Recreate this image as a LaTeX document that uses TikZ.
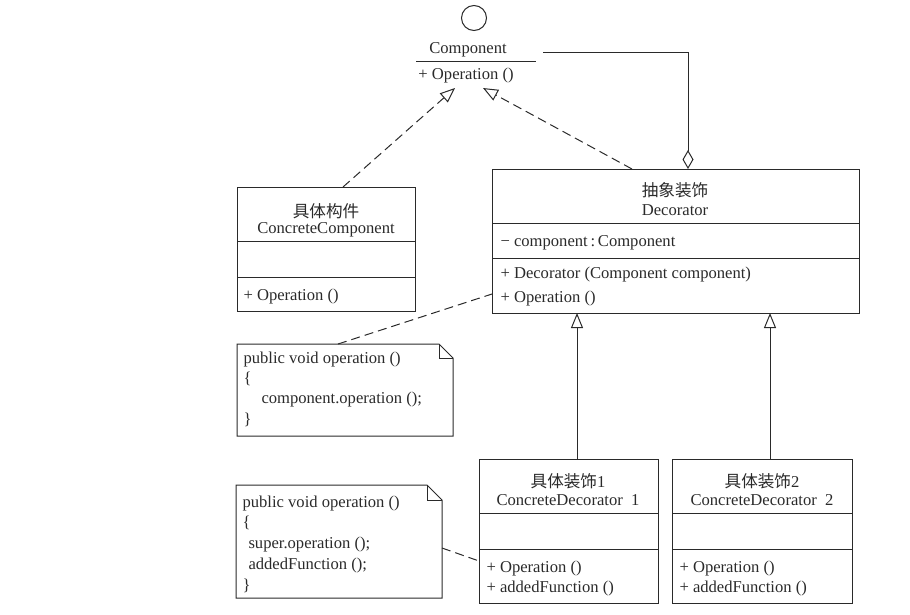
\documentclass[tikz,border=0pt]{standalone}
\usepackage{fontspec}
\setmainfont{Liberation Serif}
\newfontfamily\cjk{Noto Sans CJK SC}
\usetikzlibrary{arrows.meta}
\definecolor{ink}{HTML}{2A2A2A}
\begin{document}
\begin{tikzpicture}[x=1pt,y=-1pt,
  font=\fontsize{16.6}{20}\selectfont, color=ink, line width=1pt,
  box/.style={draw=ink, anchor=north west, inner sep=0pt},
  lbl/.style={inner sep=0pt, anchor=west, yshift=-2pt},
  ctr/.style={inner sep=0pt, yshift=-2pt},
  dep/.style={dash pattern=on 9pt off 5pt, -{Triangle[open,length=15pt,width=12pt]}},
  inh/.style={-{Triangle[open,length=15pt,width=12pt]}},
  agg/.style={-{Diamond[open,length=19pt,width=11pt]}},
  notelink/.style={dash pattern=on 9pt off 5pt},
  notebox/.style={draw=ink, line join=miter}
]
\useasboundingbox (0,0) rectangle (910,614);

% ---- Component interface ----
\node[draw=ink, circle, minimum size=25pt, inner sep=0pt] (lolly) at (474,18) {};
\node[ctr] (compname) at (468,48) {Component};
\draw (416,61) -- (536,61);
\node[ctr] (compop) at (466,74) {+ Operation ()};
\coordinate (tipA) at (455,88);
\coordinate (tipB) at (483,88);
\coordinate (aggStart) at (543,52);

% ---- ConcreteComponent ----
\node[box, minimum width=178pt, minimum height=124pt] (cc) at (237,187) {};
\node[ctr] (cc1) at (326,209) {\cjk 具体构件};
\node[ctr] (cc2) at (326,228) {ConcreteComponent};
\draw (237,241) -- (415,241);
\draw (237,277) -- (415,277);
\node[lbl] (cc3) at (243,295) {+ Operation ()};
\coordinate (ccTop) at (343,187);

% ---- Decorator ----
\node[box, minimum width=367pt, minimum height=144pt] (dec) at (492,169) {};
\node[ctr] (dec1) at (675,188) {\cjk 抽象装饰};
\node[ctr] (dec2) at (675,208) {Decorator};
\draw (492,223) -- (859,223);
\draw (492,258) -- (859,258);
\node[lbl] (dec3) at (500,241) {− component\,:\,Component};
\node[lbl] (dec4) at (500,273) {+ Decorator (Component component)};
\node[lbl] (dec5) at (500,296) {+ Operation ()};
\coordinate (decTopA) at (632,169);
\coordinate (decTopB) at (688,169);
\coordinate (decLeft) at (492,294);
\coordinate (decBot1) at (577,313);
\coordinate (decBot2) at (770,313);

% ---- ConcreteDecorator 1 ----
\node[box, minimum width=179pt, minimum height=144pt] (cd1) at (479,459) {};
\node[ctr] (cd1a) at (568,479) {\cjk 具体装饰\rmfamily 1};
\node[ctr] (cd1b) at (568,498) {ConcreteDecorator\ \ 1};
\draw (479,513) -- (658,513);
\draw (479,549) -- (658,549);
\node[lbl] (cd1c) at (486,566) {+ Operation ()};
\node[lbl] (cd1d) at (486,586) {+ addedFunction ()};
\coordinate (cd1Top) at (577,459);
\coordinate (cd1Left) at (479,561);

% ---- ConcreteDecorator 2 ----
\node[box, minimum width=180pt, minimum height=144pt] (cd2) at (672,459) {};
\node[ctr] (cd2a) at (762,479) {\cjk 具体装饰\rmfamily 2};
\node[ctr] (cd2b) at (762,498) {ConcreteDecorator\ \ 2};
\draw (672,513) -- (852,513);
\draw (672,549) -- (852,549);
\node[lbl] (cd2c) at (679,566) {+ Operation ()};
\node[lbl] (cd2d) at (679,586) {+ addedFunction ()};
\coordinate (cd2Top) at (770,459);

% ---- Note 1 ----
\draw[notebox] (237,344) -- (439,344) -- (453,358) -- (453,436) -- (237,436) -- cycle;
\draw[notebox] (439,344) -- (439,358) -- (453,358);
\node[lbl] (n1a) at (243,357) {public void operation ()};
\node[lbl] (n1b) at (243,377) {\{};
\node[lbl] (n1c) at (261,397) {component.operation ();};
\node[lbl] (n1d) at (243,418) {\}};
\coordinate (n1Top) at (338,344);

% ---- Note 2 ----
\draw[notebox] (236,485) -- (427,485) -- (442,500) -- (442,598) -- (236,598) -- cycle;
\draw[notebox] (427,485) -- (427,500) -- (442,500);
\node[lbl] (n2a) at (242,501) {public void operation ()};
\node[lbl] (n2b) at (242,521) {\{};
\node[lbl] (n2c) at (248,542) {super.operation ();};
\node[lbl] (n2d) at (248,563) {addedFunction ();};
\node[lbl] (n2e) at (242,584) {\}};
\coordinate (n2Right) at (442,548);

% ---- Connectors ----
\draw[dep] (ccTop) -- (tipA);
\draw[dep] (decTopA) -- (tipB);
\draw[agg] (aggStart) -| (decTopB);
\draw[inh] (cd1Top) -- (decBot1);
\draw[inh] (cd2Top) -- (decBot2);
\draw[notelink] (n1Top) -- (decLeft);
\draw[notelink] (n2Right) -- (cd1Left);
\end{tikzpicture}
\end{document}
